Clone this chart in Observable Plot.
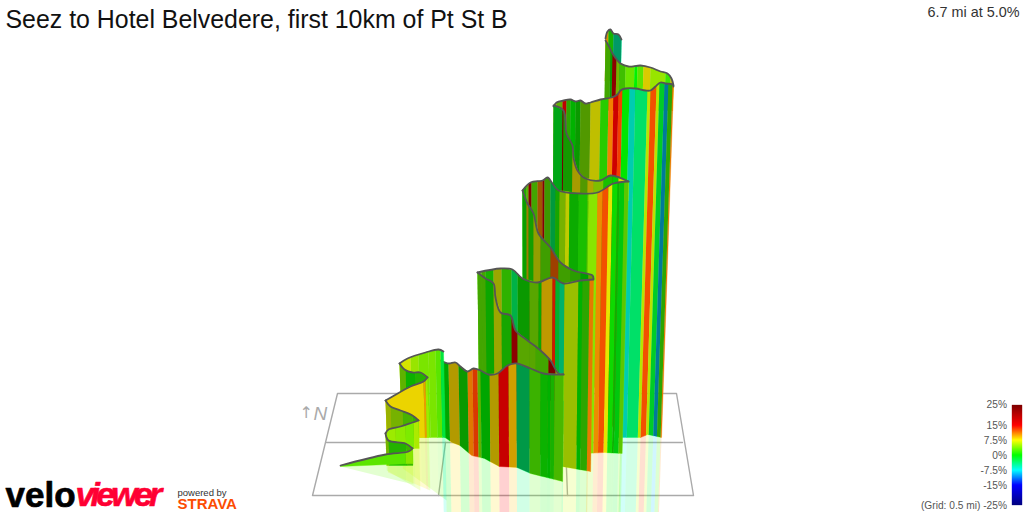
<!DOCTYPE html>
<html><head><meta charset="utf-8">
<script src="https://cdn.jsdelivr.net/npm/d3@7"></script>
<script src="https://cdn.jsdelivr.net/npm/@observablehq/plot@0.6"></script>
<style>html,body{margin:0;background:#fff}svg{display:block}</style>
</head><body><div id="c"></div>
<script>
// gradient colour scale
const gradeStops=[-25,-15,-7.5,0,7.5,15,25];
const gradeColors=["#00007f","#0000ff","#00ffff","#00ff00","#ffff00","#ff0000","#7f0000"];
const legendLabels=["25%","15%","7.5%","0%","-7.5%","-15%","(Grid: 0.5 mi) -25%"];
const legendY=[404,425,440,455,470,485,505];
// floor grid
const gridLines=[
 [[337,393],[676,393],[693,495],[312,495],[337,393]],
 [[326,442],[682,442]],
 [[445,442],[438,495]],
 [[565,442],[567,495]]];
// wall top outlines
const spireTop=[[605,38],[607,31],[610,29],[613,33],[618,34],[621,39]];
const ribbonTop=[[605,40],[608,45],[612,53],[617,60],[620,63],[628,66],[640,65],[650,67],[660,71],[667,73],[671,78],[673,85]];
const farTop=[[553,106],[556,102],[563,100],[570,99],[575,101],[580,100],[585,103],[590,102],[600,99],[611,97],[617,94],[620,90],[625,88],[635,88],[645,90],[650,90],[655,86],[660,82],[665,83],[672,84],[673,86]];
const farInnerTop=[[553,105],[563,110],[566,133],[572,145],[573,157],[577,170],[585,178],[600,180],[610,175],[628,181]];
const midTop=[[522,190],[530,182],[542,180],[547,177],[552,183],[558,190],[580,193],[597,192],[613,183],[628,181]];
const midInnerTop=[[522,190],[527,203],[533,213],[538,233],[550,247],[560,262],[573,270],[592,275],[593,278]];
const nearTop=[[477,272],[500,268],[512,269],[522,278],[537,282],[552,277],[563,283],[580,280],[593,279]];
const nearInnerTop=[[477,272],[485,278],[493,283],[495,297],[500,312],[510,315],[515,330],[527,340],[540,350],[550,360],[558,373],[563,374]];
const frontTop=[[440,360],[448,363],[455,362],[460,366],[467,371],[473,368],[480,370],[488,374],[497,373],[507,365],[516,363],[530,368],[543,373],[563,374]];
const zigA=[[399,363],[407,358],[425,352],[438,349],[443,351]];
const zigB=[[399,363],[404,369],[412,372],[420,372],[427,377]];
const zigC=[[385,400],[392,396],[410,386],[423,381],[427,377]];
const zigD=[[385,400],[390,406],[400,410],[412,415],[418,420]];
const zigE=[[385,433],[388,429],[400,426],[412,422],[418,420]];
const zigF=[[385,433],[388,440],[405,443],[412,448]];
const zigG=[[340,465],[385,454],[408,451],[412,448]];
// wall foot outlines
const farBase=[[553,300],[625,437],[650,437],[658,434],[668,436],[673,437]];
const midBase=[[522,400],[590,453],[608,452],[628,453]];
const nearBase=[[477,420],[563,466],[593,471]];
const frontBase=[[440,435],[450,442],[458,445],[470,455],[483,458],[498,466],[516,467],[530,473],[563,481]];
// stripes: breakpoints, gradient %, shading
const spireX=[605,608,613,621], spireG=[10,1,-5], spireS=[.15,.3,.4];
const ribbonX=[605,610,612,616,619,625,634,637,643,650,665,670,673];
const ribbonG=[3,0.5,18,5,2.5,3.5,0,3,8,5,2,8,17];
const ribbonS=[.35,.4,.35,.3,.25,.1,.05,.1,.15,.1,.1,.25,.4];
const farX=[553,556,562,566,570,575,580,590,600,608,613,618,622,629,635,647,650,656,659,664,668,672,673];
const farG=[9,4,15,2,0,0.5,4,7.5,1.5,11,16,13,0,-6.5,-3.5,6,12.5,6,-1.5,-9,2,11];
const farS=[.3,.3,.25,.35,.3,.4,.4,.25,.2,.05,.15,.05,.1,.2,.12,.1,.05,.1,.2,.4,.35,.1];
const farInnerX=[553,562,563,572,580,587,593,603,612,618,628];
const farInnerG=[-1,20,1,8,4,8,5,1,0,8,8];
const farInnerS=[.35,.4,.4,.35,.4,.3,.25,.25,.2,.1,.1];
const midX=[522,526,528,531,537,542,544,550,555,559,565,569,578,587,588,597,602,608,612,617,619,624,628];
const midG=[1.5,4,20,3,11,20,3,-3,1,5,7,0.5,1,3,4.5,10.5,12.5,7.5,0.5,0.5,-0.5,3.5];
const midS=[.35,.3,.3,.35,.37,.3,.4,.4,.35,.3,.2,.33,.25,.2,.1,.08,.05,.1,.15,.3,.22,.22];
const midInnerX=[522,526,528,533,540,550,558,570,580,588,593];
const midInnerG=[0.5,9,1,7,3,12,3,2,0,5];
const nearX=[477,481,485,493,501,511,517,529,538,541,552,555,559,564,578,582,589,593];
const nearG=[3,3,1,7,2,-3,0.5,4,0.5,9,14,-2,-4.5,6,0,2,11,10];
const nearS=[.2,.35,.3,.35,.3,.3,.4,.35,.35,.25,.2,.3,.3,.25,.3,.35,.1,.1];
const nearInnerX=[477,481,485,493,501,511,517,529,535,548,555,563];
const nearInnerG=[3,3,0.5,7,1,18,4,4,3,20,8];
const frontX=[440,443,448,458,467,472,477,480,489,498,508,516,529,540,547,550,554,563];
const frontG=[-6,0,8.5,0.5,11,13,4,0,8.5,15,9.3,-3.5,2.5,0.5,0,1,3];
const frontS=[.4,.35,.3,.4,.12,.15,.3,.35,.3,.22,.18,.4,.3,.3,.3,.3,.28];
const zigAX=[399,410,418,428,435,440,443], zigAG=[7,5,4,4,3,-2];
const zigBX=[399,405,415,427], zigBG=[4,0.5,1.5];
const zigCX=[385,423,425,427], zigCG=[8.2,10,5];
const zigDX=[385,390,402,412,418], zigDG=[6.5,5,3,2];
const zigEX=[385,395,405,413,418], zigEG=[5,4.5,4,5.5];
const zigFX=[385,388,406,412], zigFG=[5,1.5,2.5];
const zigGX=[340,405,412], zigGG=[3,4.5];

const interp=(p,x)=>{
  if(x<=p[0][0])return p[0][1];
  for(let i=1;i<p.length;i++) if(x<=p[i][0]) return p[i-1][1]+(p[i][1]-p[i-1][1])*(x-p[i-1][0])/((p[i][0]-p[i-1][0])||1);
  return p[p.length-1][1];
};
// vertical edges converge slightly towards the camera nadir
const lean=(x,y,ref)=>x-(x-530)*(y-interp(ref,x))/4200;
let uid=0;
function stripes(top,base,xs,gs,ss,ref=top){
  const rows=[];
  gs.forEach((g,i)=>{
    const a=xs[i],b=xs[i+1],id=uid++,s=Array.isArray(ss)?ss[i]:ss;
    const inner=p=>p.filter(d=>d[0]>a&&d[0]<b);
    const up=[[a,interp(top,a)],...inner(top),[b,interp(top,b)]];
    const dn=[[a,interp(base,a)],...inner(base),[b,interp(base,b)]].reverse();
    for(const [x,y] of [...up,...dn]) rows.push({x:lean(x,y,ref),y,id,g,s});
  });
  return rows;
}
function wallMarks(rows,outline){
  const m=[Plot.line(rows,{x:"x",y:"y",z:"id",fill:"g",stroke:"g",strokeWidth:0.4})];
  for(const [s,r] of d3.groups(rows,d=>d.s)) if(s>0)
    m.push(Plot.line(r,{x:"x",y:"y",z:"id",fill:"#000",fillOpacity:s,stroke:"none"}));
  if(outline) m.push(Plot.line(outline,{x:d=>d[0],y:d=>d[1],stroke:"#555",strokeWidth:1.8,strokeLinejoin:"round",curve:"catmull-rom"}));
  return m;
}
const wall=(top,base,xs,gs,ss)=>wallMarks(stripes(top,base,xs,gs,ss),top);
function mirror(top,base,drop,xs,gs){
  return Plot.line(stripes(base,drop,xs,gs,0,top),{x:"x",y:"y",z:"id",fill:"g",fillOpacity:0.18,stroke:"none"});
}
const flat=(x0,y0,x1,y1)=>[[x0,y0],[x1,y1]];
const clipTo=(xs,gs,lo,hi)=>{const X=[],G=[];gs.forEach((g,i)=>{if(xs[i+1]>lo&&xs[i]<hi){if(!X.length)X.push(Math.max(xs[i],lo));X.push(Math.min(xs[i+1],hi));G.push(g)}});return [X,G]};
const [fx,fg]=clipTo(farX,farG,628,673), [mx,mg]=clipTo(midX,midG,590,628), [nx,ng]=clipTo(nearX,nearG,563,590);

const texts=(t,o)=>Plot.text([t],{x:()=>o.x,y:()=>o.y,text:d=>d,textAnchor:o.a||"start",fontSize:o.s,fill:o.c,fontFamily:o.f||"Liberation Sans",fontWeight:o.w||"normal",fontStyle:o.i||"normal",stroke:o.st,strokeWidth:o.sw});

const ramp=d3.range(-25,25,0.5);
const marks=[
  ...gridLines.map(l=>Plot.line(l,{x:d=>d[0],y:d=>d[1],stroke:"#aaa",strokeWidth:1.4})),
  mirror(farTop,[[628,437],[650,437],[658,434],[668,436],[673,437]],flat(628,530,673,530),fx,fg),
  mirror(midTop,midBase.slice(1),flat(590,530,628,530),mx,mg),
  mirror(nearTop,nearBase.slice(1),flat(563,530,590,530),nx,ng),
  mirror(frontTop,frontBase,flat(440,530,563,530),frontX,frontG),
  mirror(zigA,flat(399,437,443,437),[[399,468],[443,500]],zigAX,zigAG),
  mirror(zigC,flat(385,437,427,437),[[385,472],[427,490]],zigCX,zigCG),
  mirror(zigE,flat(385,448,418,448),[[385,470],[418,490]],zigEX,zigEG),
  mirror(zigG,[[340,465],[412,463]],[[340,466],[412,484]],zigGX,zigGG),
  ...wall(spireTop,flat(605,80,621,80),spireX,spireG,spireS),
  ...wall(ribbonTop,flat(605,110,673,110),ribbonX,ribbonG,ribbonS),
  ...wall(farTop,farBase,farX,farG,farS),
  ...wall(farInnerTop,flat(553,200,628,200),farInnerX,farInnerG,farInnerS),
  ...wall(midTop,midBase,midX,midG,midS),
  ...wall(midInnerTop,flat(522,300,593,300),midInnerX,midInnerG,.38),
  ...wall(nearTop,nearBase,nearX,nearG,nearS),
  ...wall(nearInnerTop,flat(477,400,563,400),nearInnerX,nearInnerG,.35),
  ...wall(frontTop,frontBase,frontX,frontG,frontS),
  ...wall(zigA,flat(399,437,443,437),zigAX,zigAG,.1),
  ...wall(zigB,flat(399,405,427,405),zigBX,zigBG,.3),
  ...wall(zigC,flat(385,437,427,437),zigCX,zigCG,.08),
  ...wall(zigD,flat(385,440,418,440),zigDX,zigDG,.3),
  ...wall(zigE,flat(385,448,418,448),zigEX,zigEG,.08),
  ...wall(zigF,flat(385,465,412,465),zigFX,zigFG,.3),
  ...wall(zigG,[[340,466],[412,463]],zigGX,zigGG,.1),
  // colour bar
  Plot.rect(ramp,{x1:()=>1012,x2:()=>1022,y1:d=>455-2*d,y2:d=>455-2*(d+0.5),fill:d=>d+0.25,stroke:d=>d+0.25,strokeWidth:0.3}),
  Plot.text(legendLabels,{x:()=>1006.5,y:(d,i)=>legendY[i],text:d=>d,textAnchor:"end",fontSize:10.2,fill:"#555",fontFamily:"Liberation Sans"}),
  texts("Seez to Hotel Belvedere, first 10km of Pt St B",{x:5,y:20,s:24.9,c:"#111"}),
  texts("6.7 mi at 5.0%",{x:1019,y:12,a:"end",s:14.4,c:"#333"}),
  texts("↑",{x:299,y:412,s:16,c:"#aaa",f:"DejaVu Sans"}),
  texts("N",{x:313,y:413,s:19,c:"#aaa",i:"italic"}),
  texts("velo",{x:5,y:495,s:35,c:"#000",w:"bold",st:"#000",sw:0.7}),
  texts("viewer",{x:75,y:495,s:34,c:"#ff0033",w:"bold",i:"italic",st:"#ff0033",sw:0.6}),
  texts("powered by",{x:177,y:492,s:9.5,c:"#333"}),
  texts("STRAVA",{x:177,y:504,s:15,c:"#fc4c02",w:"bold"}),
];
const chart=Plot.plot({width:1024,height:512,margin:0,
  style:{background:"#fff"},
  x:{domain:[0,1024],range:[0,1024],axis:null},
  y:{domain:[0,512],range:[0,512],axis:null},
  color:{type:"linear",domain:gradeStops,range:gradeColors,interpolate:"rgb",clamp:true},
  marks});
chart.querySelectorAll("text").forEach(t=>{ if(t.textContent==="viewer") t.style.letterSpacing="-3.8px"; });
document.getElementById("c").append(chart);
</script></body></html>
